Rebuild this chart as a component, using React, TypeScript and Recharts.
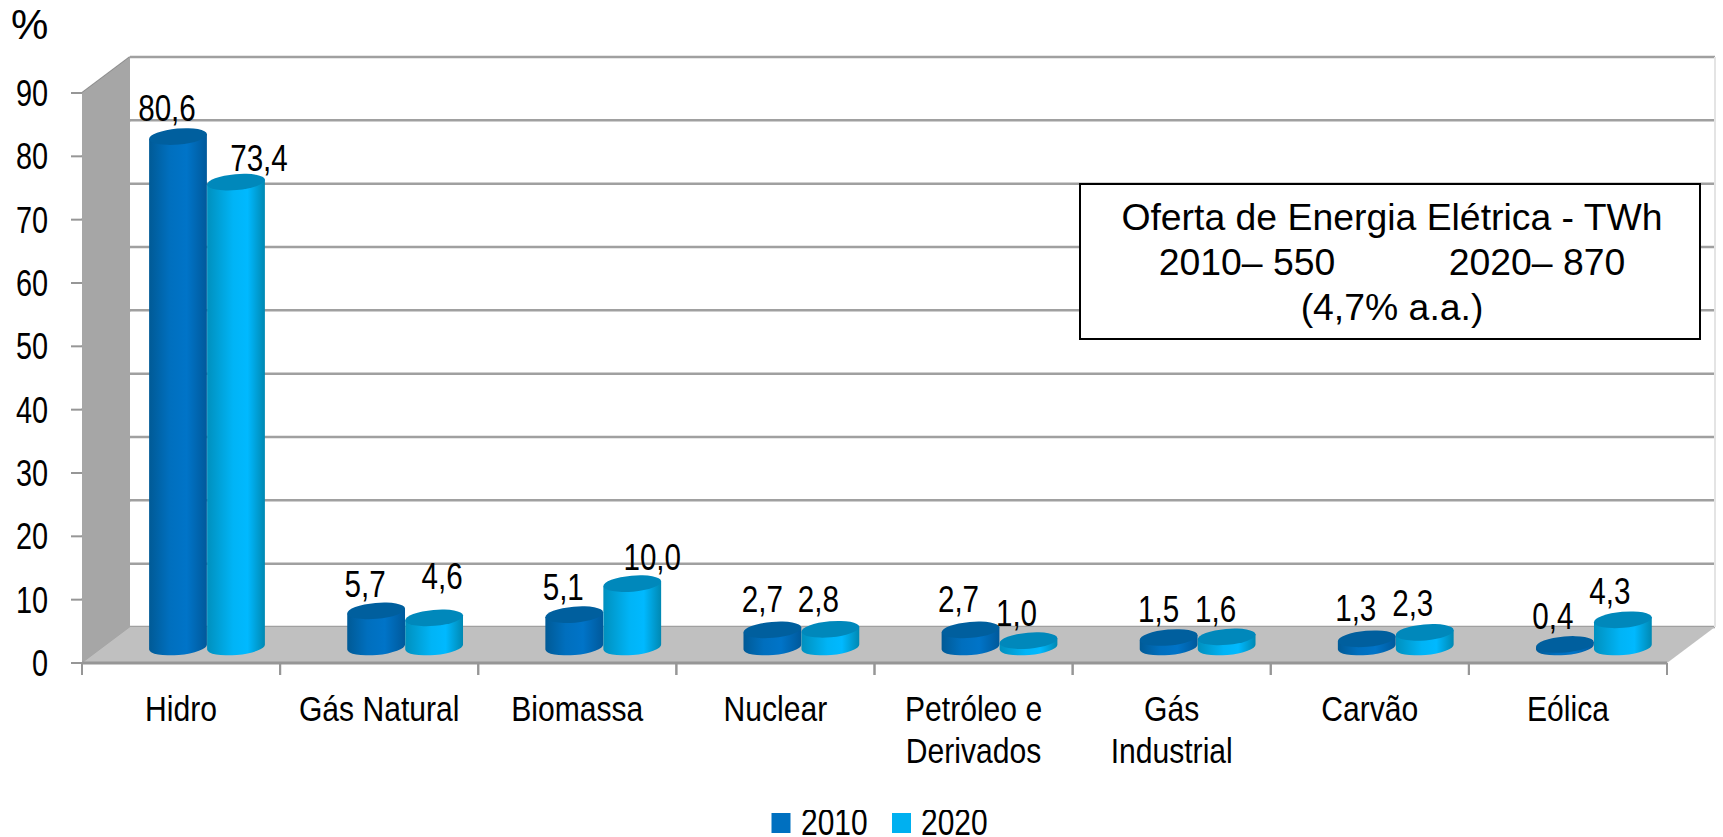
import React from 'react';
import { BarChart, Bar, XAxis, YAxis, CartesianGrid, LabelList, Legend } from 'recharts';

const categories = ['Hidro', 'Gás Natural', 'Biomassa', 'Nuclear', 'Petróleo e|Derivados', 'Gás|Industrial', 'Carvão', 'Eólica'];
const values2010 = [80.6, 5.7, 5.1, 2.7, 2.7, 1.5, 1.3, 0.4];
const values2020 = [73.4, 4.6, 10.0, 2.8, 1.0, 1.6, 2.3, 4.3];
const yTicks = [0, 10, 20, 30, 40, 50, 60, 70, 80, 90];
const data = categories.map((name, i) => ({ name, y2010: values2010[i], y2020: values2020[i] }));

// hand-placed label nudges of the original
const nudgeX2010 = [-11, -11, -11, -10, -12, -10, -11, -12];
const nudgeX2020 = [23, 8, 20, -12, -12, -11, -12, -13];
const nudgeY2010 = [-8, -6, -7, -10, -10, -8, -10, -7];
const nudgeY2020 = [-3, -21, -6, -9, -7, -7, -8, -8];

const W = 1723, H = 837;
const LEFT = 82, RIGHT = 1667, TOP = 93, BOTTOM = 663;
const WX = 48, WY = -36; // depth of the 3-D box
const BX = 26, BY = -16; // bars stand halfway into the floor
const RY = 8, ROT = -5;
const FONT = '"Liberation Sans", Arial, sans-serif';

const Squeezed = ({ x, y, sx = 0.82, size = 35, anchor = 'middle', children }: any) => (
  <text transform={`translate(${x} ${y}) scale(${sx} 1)`} fontFamily={FONT} fontSize={size} fill="#000" textAnchor={anchor}>{children}</text>
);

const cylinder = (gradient: string, topFill: string) => (props: any) => {
  const { x, y, width, height } = props;
  const cx = x + width / 2 + BX;
  const rx = width / 2;
  const top = y + BY;
  const base = y + height + BY;
  const a = (ROT * Math.PI) / 180;
  const ex = rx * Math.cos(a), ey = rx * Math.sin(a);
  const d = `M${cx - ex} ${top - ey} L${cx - ex} ${base - ey} A${rx} ${RY} ${ROT} 0 0 ${cx + ex} ${base + ey} L${cx + ex} ${top + ey} Z`;
  return (
    <g>
      <path d={d} fill={`url(#${gradient})`} />
      <ellipse cx={cx} cy={top} rx={rx} ry={RY} fill={topFill} transform={`rotate(${ROT} ${cx} ${top})`} />
    </g>
  );
};

const barLabel = (dxs: number[], dys: number[]) => (props: any) => {
  const { x, y, width, value, index } = props;
  const txt = Number(value).toFixed(1).replace('.', ',');
  return (
    <Squeezed x={x + width / 2 + BX + dxs[index]} y={y + BY - RY + dys[index]} sx={0.8} size={37}>{txt}</Squeezed>
  );
};

const XTick = (props: any) => {
  const { x, payload, width } = props;
  const band = width / categories.length;
  const lines = String(payload.value).split('|');
  return (
    <g>
      <line x1={x - band / 2} x2={x - band / 2} y1={BOTTOM} y2={BOTTOM + 12} stroke="#969696" strokeWidth={2} />
      <line x1={x + band / 2} x2={x + band / 2} y1={BOTTOM} y2={BOTTOM + 12} stroke="#969696" strokeWidth={2} />
      {lines.map((l, i) => (
        <Squeezed key={l} x={x} y={BOTTOM + 58 + i * 42} sx={0.86}>{l}</Squeezed>
      ))}
    </g>
  );
};

const YTick = (props: any) => {
  const { y, payload } = props;
  return (
    <g>
      <line x1={LEFT - 11} x2={LEFT} y1={y} y2={y} stroke="#969696" strokeWidth={2} />
      <Squeezed x={48} y={y + 13} anchor="end" sx={0.78} size={37}>{payload.value}</Squeezed>
    </g>
  );
};

const gridLine = (props: any) => {
  const { x1, x2, y1, index } = props;
  return (
    <g key={`g${index}`}>
      <line x1={x1} y1={y1} x2={x1 + WX} y2={y1 + WY} stroke="#8E8E8E" strokeWidth={2} />
      <line x1={x1 + WX} y1={y1 + WY} x2={x2 + WX} y2={y1 + WY} stroke="#A0A0A0" strokeWidth={2.5} />
    </g>
  );
};

const legendColors = ['#0070C0', '#00B0F0'];
const LegendContent = ({ payload }: any) => (
  <svg width={W} height={37} style={{ display: 'block' }}>
    {(payload || []).map((e: any, i: number) => (
      <g key={e.value}>
        <rect x={771.5 + i * 120.5} y={3} width={19} height={20} fill={legendColors[i]} />
        <Squeezed x={801 + i * 120} y={25} anchor="start" sx={0.81} size={37}>{e.value}</Squeezed>
      </g>
    ))}
  </svg>
);

export default function App() {
  return (
    <div style={{ position: 'absolute', left: 0, top: 0, width: W, height: H, background: '#fff' }}>
      <BarChart width={W} height={H} data={data} barSize={58} barGap={0}
        margin={{ top: TOP, right: W - RIGHT, bottom: 0, left: 0 }}>
        <defs>
          <linearGradient id="g2010" x1="0" x2="1" y1="0" y2="0">
            <stop offset="0" stopColor="#005A96" />
            <stop offset="0.35" stopColor="#006FBE" />
            <stop offset="0.65" stopColor="#0074C8" />
            <stop offset="1" stopColor="#00599B" />
          </linearGradient>
          <linearGradient id="g2020" x1="0" x2="1" y1="0" y2="0">
            <stop offset="0" stopColor="#0090BE" />
            <stop offset="0.45" stopColor="#00B4F6" />
            <stop offset="0.7" stopColor="#00B9FF" />
            <stop offset="1" stopColor="#0088B2" />
          </linearGradient>
        </defs>
        <polygon points={`${LEFT},${TOP} ${LEFT + WX},${TOP + WY} ${LEFT + WX},${BOTTOM + WY} ${LEFT},${BOTTOM}`} fill="#A6A6A6" />
        <polygon points={`${LEFT},${BOTTOM} ${LEFT + WX},${BOTTOM + WY} ${RIGHT + WX},${BOTTOM + WY} ${RIGHT},${BOTTOM}`} fill="#C0C0C0" />
        <line x1={RIGHT + WX} x2={RIGHT + WX} y1={TOP + WY} y2={BOTTOM + WY} stroke="#E4E4E4" strokeWidth={2} />
        <CartesianGrid vertical={false} horizontal={gridLine} />
        <XAxis dataKey="name" interval={0} height={H - BOTTOM} axisLine={{ stroke: '#969696', strokeWidth: 3 }} tickLine={false} tick={<XTick />} />
        <YAxis width={LEFT} domain={[0, 90]} ticks={yTicks} axisLine={false} tickLine={false} tick={<YTick />} />
        <Legend layout="horizontal" verticalAlign="middle" align="center" content={<LegendContent />}
          wrapperStyle={{ position: 'absolute', left: 0, top: 810, width: W, height: 27 }} />
        <Bar dataKey="y2010" name="2010" fill="#0070C0" isAnimationActive={false} shape={cylinder('g2010', '#005F9E')}>
          <LabelList dataKey="y2010" content={barLabel(nudgeX2010, nudgeY2010)} />
        </Bar>
        <Bar dataKey="y2020" name="2020" fill="#00B0F0" isAnimationActive={false} shape={cylinder('g2020', '#0088BB')}>
          <LabelList dataKey="y2020" content={barLabel(nudgeX2020, nudgeY2020)} />
        </Bar>
        <g>
          <rect x={1080} y={184} width={620} height={155} fill="#fff" stroke="#000" strokeWidth={2} />
          <Squeezed x={1392} y={230} sx={1.01} size={37}>Oferta de Energia Elétrica - TWh</Squeezed>
          <Squeezed x={1247} y={275} sx={1.01} size={37}>2010– 550</Squeezed>
          <Squeezed x={1537} y={275} sx={1.01} size={37}>2020– 870</Squeezed>
          <Squeezed x={1392} y={320} sx={1.01} size={37}>(4,7% a.a.)</Squeezed>
        </g>
        <text x={11} y={39} fontFamily={FONT} fontSize={42} fill="#000">%</text>
      </BarChart>
    </div>
  );
}
